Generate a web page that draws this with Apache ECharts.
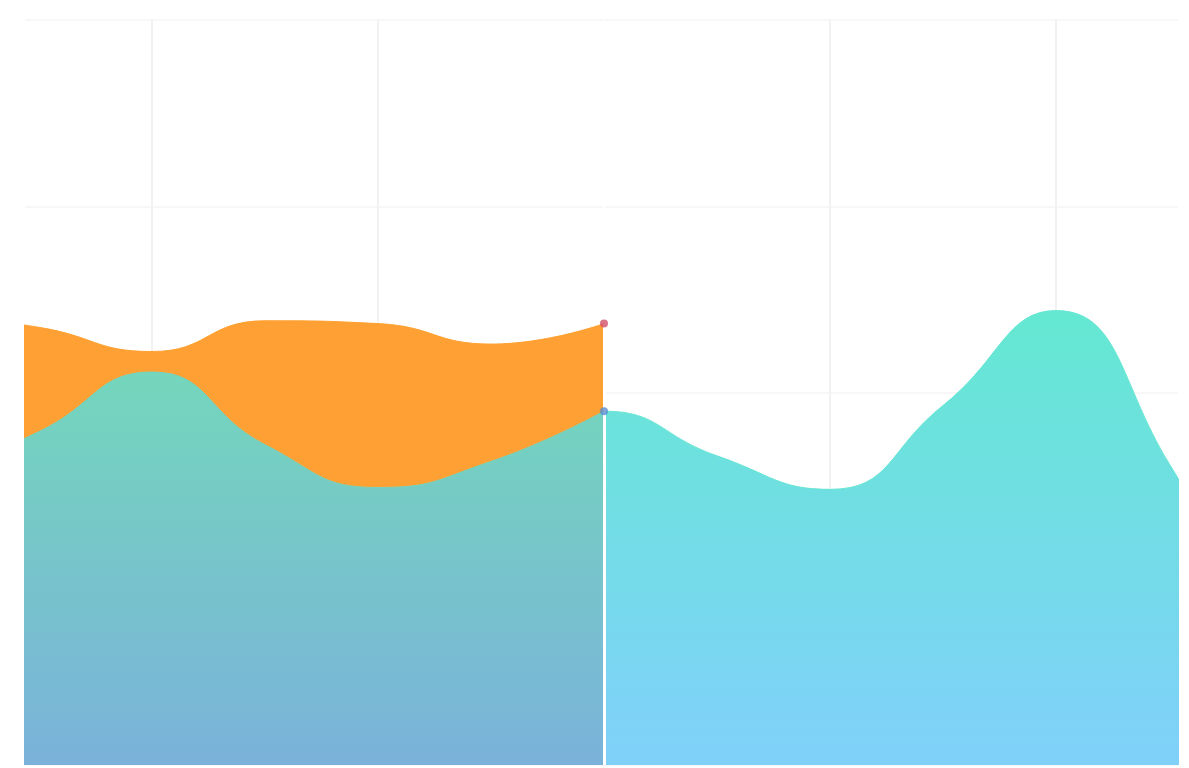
<!DOCTYPE html>
<html>
<head>
<meta charset="utf-8">
<title>Area chart</title>
<script src="https://cdn.jsdelivr.net/npm/echarts@6/dist/echarts.min.js"></script>
<style>
  html, body { margin: 0; padding: 0; background: #ffffff; }
  #chart { width: 1189px; height: 768px; }
</style>
</head>
<body>
<div id="chart"></div>
<script>
// Sample positions along the x axis (weeks)
const weeks = [0, 1, 2, 3, 4, 5, 6, 7, 8, 9, 10, 11, 12];
// Total traffic over the whole period
const trafficValues = [153, 179, 211, 172, 149, 163, 190, 166, 148, 193, 244, 162, 46];
// Campaign reach, recorded up to the current week only
const campaignValues = [242, 235, 222, 238.5, 237, 226, 237];
// Index of the current week (where the recorded data stops)
const currentIndex = 6;

const pairs = (xs, ys) => ys.map((v, i) => [xs[i], v]);

const trafficAll = pairs(weeks, trafficValues);
const trafficPast = pairs(weeks.slice(0, currentIndex + 1), trafficValues.slice(0, currentIndex + 1));
const campaign = pairs(weeks, campaignValues);

const grad = (top, bottom) => new echarts.graphic.LinearGradient(0, 0, 0, 1, [
  { offset: 0, color: top },
  { offset: 1, color: bottom }
]);

const chart = echarts.init(document.getElementById('chart'), null, { renderer: 'canvas' });

chart.setOption({
  animation: false,
  backgroundColor: '#ffffff',
  grid: { left: 25, right: 11, top: 20, bottom: 3, containLabel: false },
  xAxis: {
    type: 'value',
    min: 0.876,
    max: 11.08,
    axisLine: { show: false },
    axisTick: { show: false },
    axisLabel: { show: false },
    splitLine: {
      show: true,
      showMinLine: false,
      showMaxLine: false,
      lineStyle: { color: '#f1f1f1', width: 2 }
    }
  },
  yAxis: {
    type: 'value',
    min: 0,
    max: 400,
    interval: 100,
    axisLine: { show: false },
    axisTick: { show: false },
    axisLabel: { show: false },
    splitLine: { show: true, lineStyle: { color: '#f7f7f7', width: 2 } }
  },
  series: [
    {
      // full traffic curve; its past part is covered by the two layers above it
      name: 'Traffic (ahead)',
      type: 'line',
      z: 2,
      smooth: true,
      symbol: 'none',
      data: trafficAll,
      lineStyle: { color: '#66e6d2', width: 1 },
      areaStyle: { color: grad('#64e8d2', '#80d0fa'), opacity: 1 },
      markLine: {
        silent: true,
        symbol: 'none',
        label: { show: false },
        z: 6,
        lineStyle: { color: '#ffffff', width: 3, type: 'solid' },
        data: [{ xAxis: weeks[currentIndex] }]
      }
    },
    {
      name: 'Campaign',
      type: 'line',
      z: 3,
      smooth: true,
      symbol: 'none',
      data: campaign,
      lineStyle: { color: '#ffa030', width: 1 },
      areaStyle: { color: '#ffa035', opacity: 1 }
    },
    {
      name: 'Traffic',
      type: 'line',
      z: 4,
      smooth: true,
      symbol: 'none',
      data: trafficPast,
      lineStyle: { color: '#74d4be', width: 1 },
      areaStyle: { color: grad('#74d6bc', '#7ab2da'), opacity: 1 }
    },
    {
      name: 'Current',
      type: 'scatter',
      symbol: 'circle',
      symbolSize: 8,
      z: 7,
      data: [
        { value: [weeks[currentIndex], campaignValues[currentIndex]], itemStyle: { color: '#d2506a' } },
        { value: [weeks[currentIndex], trafficValues[currentIndex]], itemStyle: { color: '#5a8fd0' } }
      ]
    }
  ]
});
</script>
</body>
</html>
